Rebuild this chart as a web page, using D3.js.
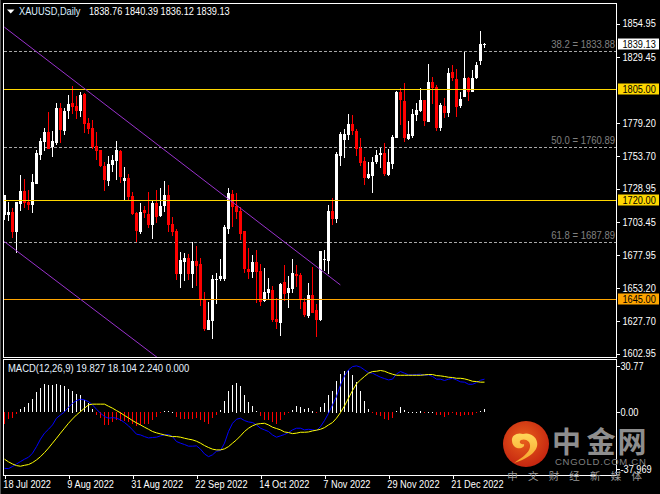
<!DOCTYPE html>
<html><head><meta charset="utf-8">
<script src="https://cdn.jsdelivr.net/npm/d3@7"></script>
<style>
html,body{margin:0;padding:0;background:#000;overflow:hidden}
svg{display:block}
text{font-family:"Liberation Sans",Arial,sans-serif;font-size:10px;fill:#fff}
</style></head><body><svg id="c" width="660" height="494"></svg>
<script>
const opens=[1709.0,1708.5,1711.3,1696.0,1717.4,1727.3,1718.9,1716.6,1732.6,1754.8,1764.7,1772.3,1760.9,1763.9,1790.7,1773.1,1788.4,1794.5,1792.2,1788.4,1801.3,1779.2,1775.4,1761.6,1758.6,1746.4,1734.9,1747.1,1750.2,1757.8,1734.9,1737.2,1723.5,1710.5,1696.0,1712.8,1709.8,1701.3,1718.1,1708.2,1715.8,1724.2,1702.1,1696.7,1663.9,1673.1,1676.1,1663.9,1673.9,1671.6,1644.1,1621.2,1628.0,1659.4,1660.1,1660.1,1698.3,1725.0,1715.8,1712.0,1696.7,1667.8,1665.5,1673.1,1666.2,1643.3,1649.4,1651.7,1629.6,1626.5,1657.8,1649.4,1652.5,1663.9,1663.2,1642.5,1631.9,1647.9,1636.4,1628.8,1674.6,1673.9,1712.0,1705.9,1754.0,1766.2,1770.0,1778.4,1773.1,1760.1,1750.2,1737.2,1738.7,1749.4,1754.8,1756.3,1739.5,1747.9,1767.8,1802.9,1796.0,1767.0,1769.3,1785.3,1788.4,1796.8,1780.0,1810.5,1806.7,1775.4,1792.2,1786.8,1818.1,1812.8,1792.2,1799.0,1813.6,1802.9,1813.6,1826.5,1838.76];
const highs=[1724.2,1718.4,1714.3,1718.9,1739.5,1736.4,1728.1,1740.3,1758.6,1767.8,1775.4,1787.6,1773.1,1794.5,1794.5,1790.7,1800.6,1807.4,1799.8,1802.9,1802.1,1783.0,1781.5,1772.3,1758.6,1749.4,1754.0,1754.8,1765.5,1758.6,1745.6,1740.3,1726.5,1711.3,1718.1,1715.8,1726.5,1719.7,1728.1,1729.6,1734.9,1731.9,1707.4,1698.3,1680.7,1680.0,1679.2,1688.4,1685.3,1676.1,1650.2,1642.5,1663.1,1664.7,1675.4,1701.3,1729.6,1728.1,1725.8,1715.1,1696.7,1683.8,1678.4,1682.3,1671.5,1668.5,1660.9,1654.8,1645.6,1657.1,1670.8,1662.4,1675.4,1670.8,1664.7,1645.6,1657.1,1669.3,1641.0,1681.5,1682.3,1716.6,1722.0,1757.1,1772.3,1774.6,1786.1,1785.3,1774.6,1767.8,1753.2,1749.4,1753.2,1758.6,1760.1,1763.9,1759.4,1770.0,1803.6,1805.9,1809.7,1780.7,1789.9,1794.5,1805.9,1796.8,1824.2,1814.3,1808.2,1794.5,1798.3,1821.2,1823.5,1820.4,1802.9,1833.4,1814.3,1819.7,1825.8,1849.4,1840.39];
const lows=[1705.2,1704.6,1691.4,1680.2,1712.0,1714.3,1712.8,1710.5,1732.6,1751.0,1757.8,1759.4,1753.2,1762.4,1763.9,1770.0,1782.3,1786.1,1782.3,1783.8,1771.6,1770.8,1759.4,1751.0,1745.6,1727.3,1731.1,1741.8,1735.7,1733.4,1720.4,1720.4,1709.0,1688.4,1694.5,1706.7,1699.0,1690.6,1702.9,1707.4,1711.3,1696.0,1692.9,1659.4,1653.2,1658.6,1659.4,1653.2,1654.8,1639.5,1620.4,1621.2,1614.3,1641.0,1658.6,1658.6,1694.5,1699.8,1705.9,1689.9,1664.7,1660.1,1660.9,1641.8,1639.5,1642.5,1644.8,1627.3,1621.9,1616.6,1643.3,1638.0,1649.4,1654.0,1637.2,1631.1,1630.4,1634.1,1615.8,1628.0,1666.2,1663.9,1701.3,1702.9,1746.4,1752.5,1766.2,1770.0,1754.0,1746.4,1731.9,1736.4,1725.8,1747.9,1744.9,1738.7,1738.7,1744.1,1767.8,1777.7,1764.7,1766.2,1767.8,1780.7,1787.6,1776.9,1780.0,1793.7,1773.1,1773.1,1783.0,1783.8,1811.3,1783.8,1790.7,1799.0,1796.0,1802.9,1812.8,1823.5,1836.12];
const closes=[1724.2,1711.3,1696.0,1718.4,1727.3,1718.1,1716.6,1734.2,1756.3,1765.5,1772.3,1759.4,1765.5,1790.7,1773.9,1788.4,1793.7,1791.4,1788.4,1800.6,1778.4,1774.6,1760.9,1757.8,1746.4,1735.7,1747.9,1751.0,1758.6,1738.0,1737.2,1722.7,1709.8,1696.7,1711.3,1710.5,1701.3,1718.1,1707.4,1715.8,1724.2,1701.3,1696.0,1663.9,1674.6,1676.1,1663.9,1673.9,1670.0,1644.1,1621.9,1628.8,1660.1,1660.1,1662.4,1699.8,1725.8,1715.1,1711.3,1694.5,1667.8,1665.5,1673.1,1665.5,1642.5,1650.2,1652.5,1628.8,1627.3,1656.3,1648.7,1653.2,1664.7,1662.4,1644.8,1632.6,1647.9,1634.1,1628.8,1681.5,1675.4,1712.0,1705.9,1755.5,1770.8,1770.8,1778.4,1773.1,1759.4,1748.7,1737.2,1740.3,1749.4,1754.8,1756.3,1740.3,1749.4,1768.5,1802.9,1796.8,1767.8,1770.8,1786.1,1789.1,1796.8,1780.7,1810.5,1805.9,1775.4,1792.9,1786.8,1817.4,1813.6,1791.4,1797.5,1813.6,1802.9,1813.6,1823.5,1839.5,1839.13];
const histogram=[-7.8,-4.7,-4.2,-1.3,2.0,3.6,6.0,8.9,13.2,16.3,19,18.3,18,19,18.3,17.2,15.4,14.5,12.3,11.6,8.2,6,2,-1.8,-4,-8.5,-8.5,-6.9,-5.6,-5.8,-6.2,-6.9,-7.8,-9.6,-8.5,-7.8,-7.8,-5.1,-3.6,-0.7,0.7,0.7,0.4,-3.6,-4.5,-4.7,-4.7,-4.7,-4,-5.6,-6.9,-7.8,-4,-1.8,1.6,7.8,14.5,18.3,19.8,17.2,11.8,7.1,4.2,0.9,-2.9,-5.1,-5.6,-6.5,-7.8,-5.6,-2.2,-0.4,1.6,4.2,3.8,2.2,2.5,1.1,-0.2,3.3,6,11.8,14.5,21.2,25.6,27.6,27.9,25,20.5,14.5,7.8,2,-0.2,-2.2,-2.9,-4.7,-5.1,-4,0.9,3.8,1.6,0.4,0.4,0.4,1.1,-0.2,0.05,0.2,-1.8,-1.8,-3.6,-1.8,-0.7,-2.2,-2.9,-1.8,-2.2,-1.8,-0.2,0.9,2.24];
const macd=[-37.5,-37.7,-36.3,-34.6,-33,-31.4,-30.1,-27.4,-23,-18,-14,-11.4,-8.5,-4,-1.8,0.2,3.3,6,7.8,8.7,8.2,7.1,4.9,2,-0.7,-2.9,-4,-3.6,-4,-5.1,-6.9,-9.1,-11.8,-14.7,-15.2,-16.3,-17.2,-16.9,-16.7,-15.8,-15.2,-14.9,-16.3,-19.6,-20.7,-21.6,-22.7,-22.7,-22.5,-24.7,-27.9,-29.7,-28.5,-26.1,-25.6,-20.7,-12.9,-7.4,-4.7,-4,-5.6,-6.5,-6.9,-8.5,-10.7,-11.8,-12.9,-15.2,-16.7,-15.8,-14.9,-13.6,-11.8,-10.7,-10.7,-11.8,-11.4,-11.8,-12.3,-9.6,-5.6,-0.7,4.9,10.5,18.3,24.3,28.3,30.5,31,30.1,28.3,26.5,26.1,24.7,23.4,22.5,21.6,22.1,25.6,27.2,26.1,25,25,25.2,25.4,24.7,25,23.9,22.1,22.1,21.2,22.1,22.7,21.6,20.3,20.1,18.7,18.7,19.8,21.4,22.1];
const signal=[-31.4,-33.2,-34.6,-35.7,-36.1,-35.5,-35,-33.7,-31.9,-29.7,-27,-24,-20.7,-17.4,-14,-10.7,-7.4,-4.5,-1.8,0.4,2.7,4.9,5.4,5.4,5.4,5.4,4,2.7,1.1,-0.4,-2.2,-3.8,-5.6,-7.1,-8.5,-10,-11.4,-12.9,-13.8,-14.5,-15.2,-15.8,-16.3,-16.3,-16.7,-17.4,-18,-18.5,-19.4,-20.7,-22.3,-23.6,-24.7,-25.2,-25.2,-24.5,-23,-20.7,-18.5,-15.8,-12.9,-10.7,-9.1,-8,-7.6,-7.4,-8.5,-10,-10.9,-11.8,-13.2,-13.6,-14.3,-14,-13.4,-13.4,-13.2,-12.5,-12,-11.4,-10.3,-8.5,-6.9,-4,-0.2,4.2,9.4,14.5,19,21.6,23.9,26.1,27.2,27.4,27.9,27.4,26.3,25.4,24.7,24.7,24.7,24.7,24.7,24.7,24.7,25,25.2,25.2,24.5,24.3,23.9,23.4,23.2,22.7,22.7,22.3,21.6,20.7,20.5,20.1,20.1];
const priceTicks=[1854.95,1829.45,1779.20,1753.70,1728.95,1703.45,1677.95,1653.20,1627.70,1602.95];
const macdTicks=[30.77,0.00,-37.969];
const macdTickLabels=["30.77","0.00","-37.969"];
const dateTickIndex=[0,16,32,48,64,80,96,112];
const dateTickLabels=["18 Jul 2022","9 Aug 2022","31 Aug 2022","22 Sep 2022","14 Oct 2022","7 Nov 2022","29 Nov 2022","21 Dec 2022"];
const levels=[1805,1720,1645];
const levelColors=["#ffd700","#ffd700","#ffa500"];
const fibRatios=["38.2","50.0","61.8"];
const fibPrices=[1833.88,1760.89,1687.89];
const channelUpper=[[0,1852.3],[84,1655.5]];
const channelLower=[[0,1688.6],[40,1596.0]];
const lastPrice=1839.13;
const headerText="XAUUSD,Daily";
const headerOHLC="1838.76 1840.39 1836.12 1839.13";
const macdLabel="MACD(12,26,9) 19.827 18.104 2.240 0.000";

const svg=d3.select("#c");
const x=d3.scaleLinear().domain([0,120]).range([4.33,484.33]);
const y=d3.scaleLinear().domain([1602.95,1854.95]).range([353.73,23.63]);
const ym=d3.scaleLinear().domain([-37.969,30.77]).range([469,366.2]);
const px=i=>Math.round(x(i));
const panelL=3,panelR=616,topY=3,midY=357,botY=475;

const defs=svg.append("defs");
defs.append("clipPath").attr("id","main").append("rect").attr("x",panelL+1).attr("y",topY+1).attr("width",panelR-panelL-1).attr("height",midY-topY-1);
const rg=defs.append("radialGradient").attr("id","logoBg").attr("cx","45%").attr("cy","40%").attr("r","65%");
rg.append("stop").attr("offset","0%").attr("stop-color","#e8601c");
rg.append("stop").attr("offset","100%").attr("stop-color","#c3210f");
const yg=defs.append("linearGradient").attr("id","logoFg").attr("x1","0").attr("y1","0").attr("x2","0").attr("y2","1");
yg.append("stop").attr("offset","0%").attr("stop-color","#ffd75a");
yg.append("stop").attr("offset","100%").attr("stop-color","#f7a12a");

// price panel
const main=svg.append("g").attr("clip-path","url(#main)");
main.selectAll("line.fib").data(fibPrices).join("line").attr("class","fib")
 .attr("x1",panelL+1).attr("x2",panelR).attr("y1",d=>Math.round(y(d)-.1)+.5).attr("y2",d=>Math.round(y(d)-.1)+.5)
 .attr("stroke","#a8a8a8").attr("stroke-dasharray","3,2");
const bars=d3.range(opens.length);
main.selectAll("rect.wick").data(bars).join("rect").attr("class","wick")
 .attr("x",px).attr("width",1).attr("y",i=>Math.round(y(highs[i])))
 .attr("height",i=>Math.max(1,Math.round(y(lows[i]))-Math.round(y(highs[i]))))
 .attr("fill",i=>closes[i]>=opens[i]?"#fff":"#f00");
main.selectAll("rect.body").data(bars).join("rect").attr("class","body")
 .attr("x",i=>px(i)-1).attr("width",3)
 .attr("y",i=>Math.round(y(Math.max(opens[i],closes[i]))))
 .attr("height",i=>Math.max(1,Math.round(y(Math.min(opens[i],closes[i])))-Math.round(y(Math.max(opens[i],closes[i])))))
 .attr("fill",i=>closes[i]>=opens[i]?"#fff":"#f00");
// horizontal levels
main.selectAll("rect.lvl").data(levels).join("rect").attr("class","lvl")
 .attr("x",panelL+1).attr("width",panelR-panelL-1).attr("y",d=>Math.round(y(d))).attr("height",1)
 .attr("fill",(d,i)=>levelColors[i]);
const chan=d3.line().x(d=>x(d[0])).y(d=>y(d[1]));
main.selectAll("path.chan").data([channelUpper,channelLower]).join("path").attr("class","chan")
 .attr("d",chan).attr("fill","none").attr("stroke","#9932cc").attr("stroke-width",1);
main.selectAll("text.fibl").data(fibPrices).join("text").attr("class","fibl")
 .attr("x",615).attr("y",d=>y(d)-3).attr("text-anchor","end")
 .style("fill","#808080")
 .text((d,i)=>fibRatios[i]+" = "+d.toFixed(2));

// macd panel
const mg=svg.append("g");
mg.selectAll("rect.h").data(histogram).join("rect").attr("class","h")
 .attr("x",(d,i)=>px(i)).attr("width",1)
 .attr("y",d=>Math.round(Math.min(ym(d),ym(0))))
 .attr("height",d=>Math.max(1,Math.round(Math.abs(ym(d)-ym(0)))))
 .attr("fill",d=>d>=0?"#fff":"#f00");
const ln=d3.line().x((d,i)=>px(i)+.5).y(d=>ym(d));
mg.append("path").attr("d",ln(macd)).attr("fill","none").attr("stroke","#0000ff");
mg.append("path").attr("d",ln(signal)).attr("fill","none").attr("stroke","#ffff00");

// frames
const frame=svg.append("g").attr("shape-rendering","crispEdges");
frame.append("rect").attr("x",panelL+.5).attr("y",topY+.5).attr("width",panelR-panelL).attr("height",midY-topY).attr("fill","none").attr("stroke","#fff");
frame.append("rect").attr("x",panelL+.5).attr("y",359.5).attr("width",panelR-panelL).attr("height",botY-359).attr("fill","none").attr("stroke","#fff");
frame.append("rect").attr("x",0).attr("y",0).attr("width",1).attr("height",494).attr("fill","#555");

// axes
const axisStyle=g=>{g.select(".domain").remove();g.selectAll("line").attr("stroke","#fff").attr("shape-rendering","crispEdges");};
svg.append("g").attr("transform",`translate(${panelR+.5},0)`)
 .call(d3.axisRight(y).tickValues(priceTicks).tickFormat(d3.format(".2f")).tickSize(3).tickPadding(3)).call(axisStyle);
svg.append("g").attr("transform",`translate(${panelR+.5},0)`)
 .call(d3.axisRight(ym).tickValues(macdTicks).tickFormat((d,i)=>macdTickLabels[i]).tickSize(3).tickPadding(1)).call(axisStyle);
const ax=svg.append("g").attr("transform",`translate(0.5,${botY+.5})`)
 .call(d3.axisBottom(x).tickValues(dateTickIndex).tickFormat((d,i)=>dateTickLabels[i]).tickSize(3).tickPadding(2)).call(axisStyle);
ax.selectAll("text").attr("text-anchor","start").attr("dx","-2");
svg.selectAll(".tick text").style("font-family",'"Liberation Sans",Arial,sans-serif').style("font-size","10px").style("fill","#fff");

// right tags
const tags=[...levels.map((d,i)=>({v:d,bg:levelColors[i]})),{v:lastPrice,bg:"#fff"}];
const tg=svg.selectAll("g.tag").data(tags).join("g").attr("class","tag").attr("transform",d=>`translate(618,${Math.round(y(d.v))})`);
tg.append("rect").attr("x",0).attr("y",-5.5).attr("width",41).attr("height",11).attr("fill",d=>d.bg);
tg.append("text").attr("x",4.5).attr("y",3.5).style("fill","#000").text(d=>d.v.toFixed(2));

// header
svg.append("path").attr("d",d3.line()([[7,9.5],[14.5,9.5],[10.7,13.5]])+"Z").attr("fill","#fff");
svg.append("text").attr("x",19).attr("y",15).style("fill","#dcefff").text(headerText);
svg.append("text").attr("x",89).attr("y",15).style("fill","#fff").text(headerOHLC);
const mlab=svg.append("text").attr("class","mlab").attr("x",8).attr("y",372).style("fill","#e6f2ff").text(macdLabel);

// narrow all interface text to the reference's compact width
svg.selectAll("text").each(function(){
  const n=this.getComputedTextLength();
  const sel=d3.select(this);
  const k=sel.classed("fibl")?0.95:sel.classed("mlab")?0.945:0.92;
  sel.attr("textLength",(n*k).toFixed(1)).attr("lengthAdjust","spacingAndGlyphs");
});

// watermark
const wm=svg.append("g");
wm.append("circle").attr("cx",526).attr("cy",444).attr("r",23).attr("fill","url(#logoBg)");
wm.append("path").attr("transform","translate(526,444)")
 .attr("d","M-14,-3 C-15,-9 -8,-12 -3,-10 C3,-12 10,-8 11,-2 C13,6 4,14 -12,19 C-3,13 3,9 4,3 C5,-3 -1,-6 -5,-4 C-8,-2 -5,1 -2,0 C-1,3 -5,5 -9,4 C-12,3 -14,0 -14,-3Z")
 .attr("fill","url(#logoFg)");
const cjk='"Noto Sans CJK SC",sans-serif';
wm.selectAll("text.big").data(["中","金","网"]).join("text").attr("class","big")
 .attr("x",(d,i)=>[566.5,601,632][i]).attr("y",453).attr("text-anchor","middle")
 .style("font-family",cjk).style("font-size","29px").style("font-weight","700").style("fill","#8e8e8e").text(d=>d);
wm.append("text").attr("x",555).attr("y",465).style("font-size","9.5px").style("letter-spacing",".75px").style("fill","#808080").text("CNGOLD.COM.CN");
wm.selectAll("text.sm").data(["中","文","财","经","新","媒","体"]).join("text").attr("class","sm")
 .attr("x",(d,i)=>512.5+i*20.7).attr("y",480).attr("text-anchor","middle")
 .style("font-family",cjk).style("font-size","10.5px").style("fill","#9a9a9a").text(d=>d);
</script></body></html>
